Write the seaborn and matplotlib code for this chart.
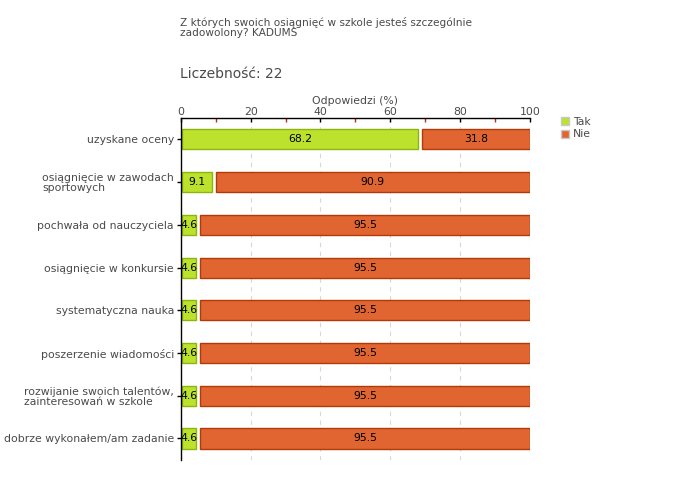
import matplotlib
matplotlib.use('Agg')
import matplotlib.pyplot as plt
import seaborn as sns
import pandas as pd
from matplotlib.ticker import MultipleLocator
from matplotlib.lines import Line2D

categories = [
    'uzyskane oceny',
    'osiągnięcie w zawodach\nsportowych',
    'pochwała od nauczyciela',
    'osiągnięcie w konkursie',
    'systematyczna nauka',
    'poszerzenie wiadomości',
    'rozwijanie swoich talentów,\nzainteresowań w szkole',
    'dobrze wykonałem/am zadanie',
]
tak = [68.2, 9.1, 4.6, 4.6, 4.6, 4.6, 4.6, 4.6]
nie = [31.8, 90.9, 95.5, 95.5, 95.5, 95.5, 95.5, 95.5]

green = '#bde22e'
green_edge = '#8db50d'
orange = '#e06530'
orange_edge = '#b13a08'
text_col = '#4a4a4a'

df = pd.DataFrame({'cat': categories, 'Tak': tak, 'Nie': nie})

sns.set_style('white')
plt.rcParams['font.family'] = ['DejaVu Sans']

fig = plt.figure(figsize=(6.8, 4.8), dpi=100)
ax = fig.add_axes([0.266, 0.042, 0.513, 0.712])

sns.barplot(data=df, x='Nie', y='cat', color=orange, width=0.47,
            edgecolor=orange_edge, linewidth=1, saturation=1, ax=ax)
sns.barplot(data=df, x='Tak', y='cat', color=green, width=0.47,
            edgecolor=green_edge, linewidth=1, saturation=1, ax=ax)

# orange segments start after the green ones, with a small gap
n = len(categories)
orange_bars = ax.patches[:n]
green_bars = ax.patches[n:]
for p, t in zip(orange_bars, tak):
    p.set_x(t + 0.9)
    p.set_width(100 - t - 0.9)
for p, t in zip(green_bars, tak):
    p.set_x(0.3)
    p.set_width(t - 0.6)

for i, (t, v) in enumerate(zip(tak, nie)):
    ax.text(t / 2, i, f'{t:.1f}', ha='center', va='center', fontsize=7.8, color='black')
    ax.text(t + v / 2 + 0.5, i, f'{v:.1f}', ha='center', va='center', fontsize=7.8, color='black')

ax.set_xlim(0, 100)
ax.set_ylim(n - 0.5, -0.5)
ax.xaxis.set_ticks_position('top')
ax.xaxis.set_label_position('top')
ax.xaxis.set_major_locator(MultipleLocator(20))
ax.xaxis.set_minor_locator(MultipleLocator(10))
ax.tick_params(axis='x', which='major', direction='in', length=3, width=1, color='black',
               labelsize=7.8, labelcolor=text_col, pad=1)
ax.tick_params(axis='x', which='minor', direction='in', length=3, width=1, color='#cc2222')
ax.tick_params(axis='y', direction='out', length=3, width=1, color='black',
               labelsize=7.8, labelcolor=text_col, pad=2, left=True)
ax.set_xlabel('Odpowiedzi (%)', fontsize=7.8, color=text_col, labelpad=2)
ax.set_ylabel('')
for lab in ax.get_yticklabels():
    lab.set_multialignment('left')
    lab.set_linespacing(0.95)

ax.grid(axis='x', which='major', linestyle=(0, (4, 4)), color='#d8d8d8', linewidth=0.8)
ax.set_axisbelow(True)
for side in ['right', 'bottom']:
    ax.spines[side].set_visible(False)
for side in ['top', 'left']:
    ax.spines[side].set_color('black')
    ax.spines[side].set_linewidth(1)

handles = [Line2D([], [], marker='s', linestyle='', markersize=5.5, markerfacecolor=green,
                  markeredgecolor='#c8c8c8', label='Tak'),
           Line2D([], [], marker='s', linestyle='', markersize=5.5, markerfacecolor=orange,
                  markeredgecolor='#c8c8c8', label='Nie')]
fig.legend(handles=handles, loc='upper left', bbox_to_anchor=(0.815, 0.767), frameon=False,
           fontsize=7.8, handletextpad=0.2, labelspacing=0.2, borderpad=0,
           handlelength=1, labelcolor=text_col)

fig.text(0.265, 1 - 17 / 480, 'Z których swoich osiągnięć w szkole jesteś szczególnie\nzadowolony? KADUMS',
         fontsize=7.6, color=text_col, va='top', ha='left', linespacing=0.95)
fig.text(0.265, 1 - 67 / 480, 'Liczebność: 22', fontsize=10, color=text_col, va='top', ha='left')

fig.savefig('out.png', dpi=100)
